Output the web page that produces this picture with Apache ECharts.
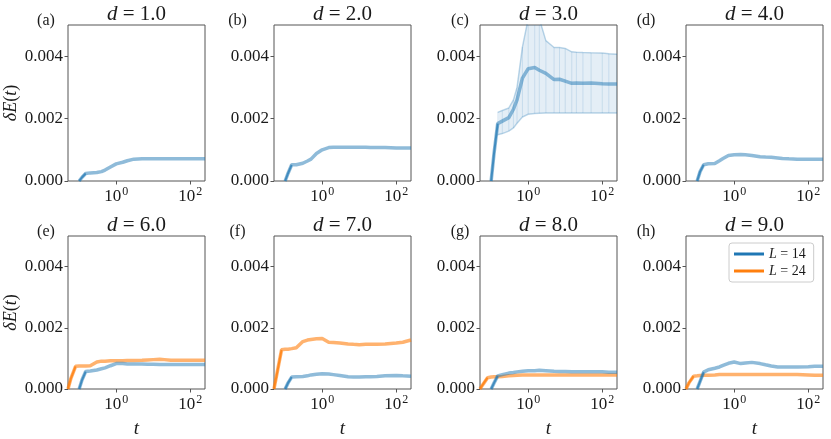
<!DOCTYPE html>
<html><head><meta charset="utf-8">
<script src="https://cdn.jsdelivr.net/npm/echarts@6/dist/echarts.min.js"></script>
<style>html,body{margin:0;padding:0;background:#fff}#c{width:831px;height:439px}</style>
</head><body><div id="c"></div>
<script>
// ---- data ----
const T = [0.05, 0.06, 0.08, 0.1, 0.12, 0.15, 0.2, 0.3, 0.4, 0.5, 0.7, 1, 1.5, 2, 3, 5, 7, 10, 15, 20, 30, 50, 100, 150, 250];
const dLabels = ['1.0', '2.0', '3.0', '4.0', '6.0', '7.0', '8.0', '9.0'];
const panelTags = ['(a)', '(b)', '(c)', '(d)', '(e)', '(f)', '(g)', '(h)'];
const xTickValues = [1, 100];
const yTickValues = [0, 0.002, 0.004];
const seriesNames = ['L = 14', 'L = 24'];

const L14_d1 = [null, null, null, 0, 0.00012, 0.00024, 0.00026, 0.00027, 0.0003, 0.00035, 0.00045, 0.00055, 0.0006, 0.00065, 0.0007, 0.00071, 0.00071, 0.00071, 0.00071, 0.00071, 0.00071, 0.00071, 0.00071, 0.00071, 0.00071];
const L14_d2 = [null, null, null, 0, 0.00025, 0.00052, 0.00052, 0.00057, 0.00064, 0.0007, 0.00088, 0.001, 0.00107, 0.00108, 0.00108, 0.00108, 0.00108, 0.00108, 0.00108, 0.00107, 0.00107, 0.00107, 0.00106, 0.00106, 0.00106];
const L14_d3 = [null, null, null, 0, 0.0009, 0.00184, 0.00192, 0.00203, 0.0023, 0.0026, 0.0033, 0.0036, 0.00364, 0.00355, 0.00345, 0.00325, 0.00326, 0.0032, 0.00313, 0.00314, 0.00313, 0.00314, 0.00312, 0.00311, 0.00311];
const L14_d3_upper = [null, null, null, null, null, 0.0022, 0.00226, 0.00234, 0.0026, 0.003, 0.0043, 0.0052, 0.0054, 0.0052, 0.0045, 0.00428, 0.00428, 0.00425, 0.00414, 0.00413, 0.00412, 0.00411, 0.0041, 0.00408, 0.00406];
const L14_d3_lower = [null, null, null, null, null, 0.00148, 0.00152, 0.0016, 0.0017, 0.00185, 0.00205, 0.00214, 0.00216, 0.00217, 0.00218, 0.00218, 0.00218, 0.00218, 0.00218, 0.00218, 0.00218, 0.00218, 0.00218, 0.00218, 0.00218];
const L14_d4 = [null, null, null, 0, 0.0003, 0.00052, 0.00055, 0.00056, 0.00065, 0.00072, 0.00082, 0.00084, 0.00085, 0.00084, 0.00082, 0.00078, 0.00077, 0.00076, 0.00074, 0.00072, 0.00071, 0.0007, 0.0007, 0.0007, 0.0007];
const L14_d6 = [null, null, null, 0, 0.0003, 0.00057, 0.00059, 0.00062, 0.00066, 0.00069, 0.00076, 0.00083, 0.00083, 0.00082, 0.00082, 0.00082, 0.00081, 0.00081, 0.0008, 0.0008, 0.0008, 0.0008, 0.0008, 0.0008, 0.0008];
const L24_d6 = [0, 0.00035, 0.00074, 0.00075, 0.00075, 0.00075, 0.00076, 0.00088, 0.00091, 0.00091, 0.00092, 0.00092, 0.00092, 0.00093, 0.00093, 0.00094, 0.00095, 0.00096, 0.00097, 0.00096, 0.00094, 0.00094, 0.00094, 0.00094, 0.00094];
const L14_d7 = [null, null, null, 0, 0.0002, 0.00039, 0.0004, 0.00041, 0.00043, 0.00046, 0.00048, 0.0005, 0.00049, 0.00047, 0.00044, 0.0004, 0.00039, 0.00039, 0.0004, 0.0004, 0.00041, 0.00043, 0.00044, 0.00043, 0.00042];
const L24_d7 = [0, 0.0005, 0.00128, 0.0013, 0.0013, 0.00132, 0.00135, 0.00155, 0.0016, 0.00162, 0.00164, 0.00165, 0.00153, 0.00152, 0.0015, 0.00147, 0.00146, 0.00145, 0.00146, 0.00146, 0.00146, 0.00147, 0.0015, 0.00153, 0.0016];
const L14_d8 = [null, null, null, 0, 0.0002, 0.00043, 0.00047, 0.00052, 0.00054, 0.00056, 0.00058, 0.0006, 0.0006, 0.00061, 0.0006, 0.00058, 0.00057, 0.00057, 0.00056, 0.00056, 0.00056, 0.00056, 0.00056, 0.00055, 0.00055];
const L24_d8 = [0, 0.00015, 0.00037, 0.00039, 0.0004, 0.0004, 0.00041, 0.00043, 0.00044, 0.00045, 0.00046, 0.00046, 0.00046, 0.00046, 0.00046, 0.00046, 0.00046, 0.00046, 0.00046, 0.00046, 0.00046, 0.00046, 0.00046, 0.00046, 0.00046];
const L14_d9 = [null, null, null, 0, 0.00025, 0.00055, 0.00063, 0.00068, 0.00072, 0.00077, 0.00084, 0.00088, 0.00083, 0.00085, 0.00087, 0.00083, 0.00079, 0.00075, 0.00072, 0.00072, 0.00072, 0.00072, 0.00073, 0.00074, 0.00074];
const L24_d9 = [0, 0.0002, 0.00042, 0.00043, 0.00044, 0.00045, 0.00045, 0.00046, 0.00047, 0.00047, 0.00047, 0.00047, 0.00047, 0.00047, 0.00047, 0.00047, 0.00047, 0.00047, 0.00047, 0.00047, 0.00047, 0.00047, 0.00046, 0.00045, 0.00045];

const panelL14 = [L14_d1, L14_d2, L14_d3, L14_d4, L14_d6, L14_d7, L14_d8, L14_d9];
const panelL24 = [null, null, null, null, L24_d6, L24_d7, L24_d8, L24_d9];

// ---- layout / style ----
const FONT = 'Liberation Serif';
const TXT = '#1a1a1a';
const AX = '#555555';
const BLUE = '#1f77b4', ORANGE = '#ff7f0e';
const colLeft = [68, 274, 480, 686], rowTop = [25, 236], W = 137, H = 156;
const tagX = [46, 237.5, 460, 646];

const pairs = arr => T.map((t, k) => [t, arr[k]]);
// the steep initial rise (first three non-null samples), drawn darker as in the reference
const risePairs = arr => {
  const first = arr.findIndex(v => v != null);
  return T.map((t, k) => [t, (k >= first && k <= first + 2) ? arr[k] : null]);
};

const grids = [], xAxes = [], yAxes = [], series = [], graphics = [];
for (let i = 0; i < 8; i++) {
  const r = Math.floor(i / 4), c = i % 4;
  grids.push({left: colLeft[c], top: rowTop[r], width: W, height: H, show: true, borderColor: AX, borderWidth: 1, backgroundColor: 'transparent'});
  xAxes.push({
    type: 'log', logBase: 10, gridIndex: i, min: 0.05, max: 250,
    axisLine: {show: false}, splitLine: {show: false}, minorTick: {show: false},
    axisTick: {show: true, length: 3.5, lineStyle: {color: AX}, customValues: xTickValues},
    axisLabel: {
      customValues: xTickValues, margin: 5, color: TXT, fontFamily: FONT, fontSize: 17,
      formatter: v => '{b|10}{s|' + Math.round(Math.log10(v)) + '}',
      rich: {b: {fontFamily: FONT, fontSize: 17, color: TXT, verticalAlign: 'bottom'},
             s: {fontFamily: FONT, fontSize: 12, color: TXT, verticalAlign: 'bottom', padding: [0, 0, 7, 1]}}
    },
    name: r === 1 ? 't' : '', nameLocation: 'middle', nameGap: 30,
    nameTextStyle: {fontFamily: FONT, fontSize: 19, fontStyle: 'italic', color: TXT}
  });
  yAxes.push({
    type: 'value', gridIndex: i, min: 0, max: 0.005,
    axisLine: {show: false}, splitLine: {show: false},
    axisTick: {show: true, length: 3.5, lineStyle: {color: AX}, customValues: yTickValues},
    axisLabel: {customValues: yTickValues, margin: 5, color: TXT, fontFamily: FONT, fontSize: 17, formatter: v => v.toFixed(3)},
    name: c === 0 ? '{i|δE}({i|t})' : '', nameLocation: 'middle', nameGap: 48, nameRotate: 90,
    nameTextStyle: {fontFamily: FONT, fontSize: 18, color: TXT, rich: {i: {fontFamily: FONT, fontSize: 18, fontStyle: 'italic', color: TXT}}}
  });
  if (i === 2) {
    // error band: one quadrilateral per interval, positioned through the axes (api.coord)
    const bandData = [];
    for (let k = 0; k < T.length - 1; k++) {
      if (L14_d3_upper[k] != null && L14_d3_upper[k + 1] != null) {
        bandData.push([T[k], L14_d3_lower[k], L14_d3_upper[k], T[k + 1], L14_d3_lower[k + 1], L14_d3_upper[k + 1]]);
      }
    }
    series.push({
      type: 'custom', name: 'band', xAxisIndex: i, yAxisIndex: i, silent: true, z: 1,
      data: bandData, clip: true,
      renderItem: (params, api) => {
        const a = api.coord([api.value(0), api.value(1)]);
        const b = api.coord([api.value(0), api.value(2)]);
        const cc = api.coord([api.value(3), api.value(5)]);
        const d = api.coord([api.value(3), api.value(4)]);
        const cs = params.coordSys;
        return {
          type: 'polygon', shape: {points: [a, b, cc, d]},
          style: {fill: 'rgba(31,119,180,0.12)', stroke: 'rgba(31,119,180,0.12)', lineWidth: 0.6},
          clipPath: {type: 'rect', shape: {x: cs.x, y: cs.y, width: cs.width, height: cs.height}}
        };
      }
    });
    series.push({
      type: 'line', name: 'band-lo', xAxisIndex: i, yAxisIndex: i, showSymbol: false, silent: true,
      data: pairs(L14_d3_lower), color: BLUE, lineStyle: {width: 1.5, opacity: 0.25}, z: 2
    });
    series.push({
      type: 'line', name: 'band-hi', xAxisIndex: i, yAxisIndex: i, showSymbol: false, silent: true,
      data: pairs(L14_d3_upper), color: BLUE, lineStyle: {width: 1.5, opacity: 0.25}, z: 2
    });
  }
  if (panelL24[i]) {
    series.push({
      type: 'line', name: seriesNames[1], xAxisIndex: i, yAxisIndex: i, showSymbol: false,
      data: pairs(panelL24[i]), color: ORANGE, itemStyle: {color: ORANGE}, lineStyle: {width: 3.5, opacity: 0.6}, z: 3
    });
    series.push({
      type: 'line', name: 'rise24', xAxisIndex: i, yAxisIndex: i, showSymbol: false, silent: true,
      data: risePairs(panelL24[i]), color: ORANGE, lineStyle: {width: 2, opacity: 0.8}, z: 3
    });
  }
  series.push({
    type: 'line', name: seriesNames[0], xAxisIndex: i, yAxisIndex: i, showSymbol: false,
    data: pairs(panelL14[i]), color: BLUE, itemStyle: {color: BLUE}, lineStyle: {width: 3.5, opacity: 0.5}, z: 4
  });
  series.push({
    type: 'line', name: 'rise14', xAxisIndex: i, yAxisIndex: i, showSymbol: false, silent: true,
    data: risePairs(panelL14[i]), color: BLUE, lineStyle: {width: 2, opacity: 0.7}, z: 4
  });
  graphics.push({
    type: 'text', x: colLeft[c] + W / 2, y: rowTop[r] - 11,
    style: {text: '{i|d} = ' + dLabels[i], fontFamily: FONT, fontSize: 21, fill: TXT, align: 'center', verticalAlign: 'middle',
            rich: {i: {fontFamily: FONT, fontSize: 21, fontStyle: 'italic', fill: TXT}}}
  });
  graphics.push({
    type: 'text', x: tagX[c], y: rowTop[r] - 4,
    style: {text: panelTags[i], fontFamily: FONT, fontSize: 16, fill: TXT, align: 'center', verticalAlign: 'middle'}
  });
}

const chart = echarts.init(document.getElementById('c'), null, {renderer: 'canvas'});
chart.setOption({
  animation: false,
  backgroundColor: '#fff',
  grid: grids, xAxis: xAxes, yAxis: yAxes, series: series,
  legend: {
    data: seriesNames, left: 729, top: 243, orient: 'vertical', icon: 'rect', itemWidth: 30, itemHeight: 3,
    itemGap: 3, padding: [4, 8, 4, 5], borderColor: '#cccccc', borderWidth: 1, borderRadius: 3, backgroundColor: '#fff',
    selectedMode: false,
    formatter: n => n.replace('L', '{i|L}'),
    textStyle: {fontFamily: FONT, fontSize: 14, color: TXT, rich: {i: {fontFamily: FONT, fontSize: 14, fontStyle: 'italic', color: TXT}}}
  },
  graphic: graphics
});
</script></body></html>
